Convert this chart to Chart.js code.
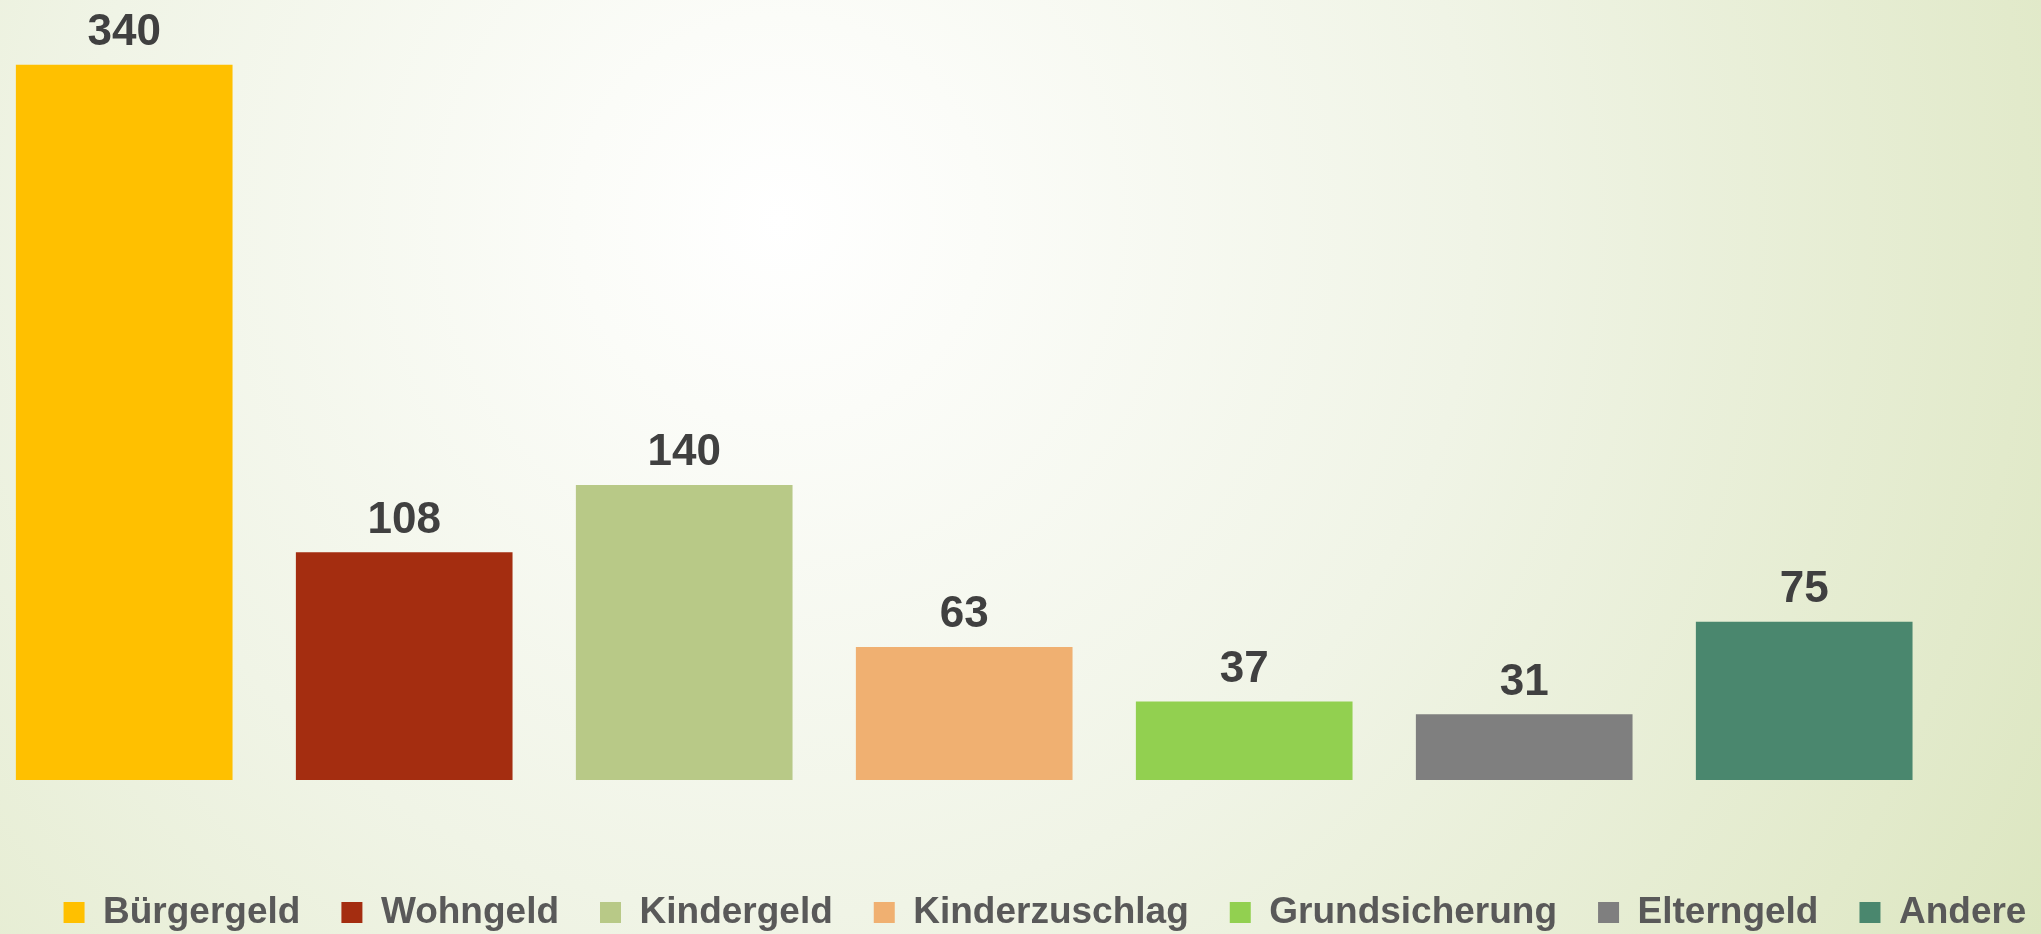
<!DOCTYPE html>
<html lang="de">
<head>
<meta charset="utf-8">
<title>Leistungen</title>
<script src="https://cdn.jsdelivr.net/npm/chart.js@4.4.1/dist/chart.umd.min.js"></script>
<style>
  html, body {
    margin: 0;
    padding: 0;
    width: 2041px;
    height: 934px;
    overflow: hidden;
  }
  body {
    background: radial-gradient(circle farthest-corner at 780px 220px,
      #ffffff 0%, #fbfcf8 14%, #f0f4e6 48%, #e2eacb 86%, #dce6c0 100%);
  }
  #wrap {
    position: absolute;
    left: 0;
    top: 0;
  }
</style>
</head>
<body>
<div id="wrap"><canvas id="leistungenChart" width="2090" height="941"></canvas></div>
<script>
// Daten
const kategorien = ['Bürgergeld', 'Wohngeld', 'Kindergeld', 'Kinderzuschlag', 'Grundsicherung', 'Elterngeld', 'Andere'];
const werte      = [340, 108, 140, 63, 37, 31, 75];
const farben     = ['#FFC000', '#A42D10', '#B8C987', '#F0B071', '#92D050', '#7F7F7F', '#4A876E'];

// Werte über den Balken
const wertLabels = {
  id: 'wertLabels',
  afterDatasetsDraw(chart) {
    const ctx = chart.ctx;
    const meta = chart.getDatasetMeta(0);
    ctx.save();
    ctx.font = 'bold 44px "Liberation Sans", Arial, sans-serif';
    ctx.fillStyle = '#404040';
    ctx.textAlign = 'center';
    ctx.textBaseline = 'alphabetic';
    meta.data.forEach((bar, i) => {
      ctx.fillText(String(werte[i]), bar.x, bar.y - 20);
    });
    ctx.restore();
  }
};

const ctx = document.getElementById('leistungenChart').getContext('2d');
new Chart(ctx, {
  type: 'bar',
  data: {
    datasets: [{
      label: 'Leistungen',
      data: werte.map((v, i) => ({ x: i, y: v })),
      backgroundColor: farben,
      borderWidth: 0,
      barThickness: 216
    }]
  },
  options: {
    responsive: false,
    animation: false,
    devicePixelRatio: 1,
    layout: { padding: 0 },
    scales: {
      x: {
        type: 'linear',
        display: false,
        offset: false,
        min: -0.4436,
        max: 7.0207
      },
      y: {
        type: 'linear',
        display: false,
        min: -34.87,
        max: 370.9
      }
    },
    plugins: {
      tooltip: { enabled: false },
      legend: {
        position: 'bottom',
        onClick: null,
        labels: {
          boxWidth: 21,
          boxHeight: 21,
          padding: 41,
          color: '#595959',
          font: { family: '"Liberation Sans", Arial, sans-serif', size: 37, weight: 'bold' },
          generateLabels: () => kategorien.map((k, i) => ({
            text: k,
            fillStyle: farben[i],
            strokeStyle: farben[i],
            fontColor: '#595959',
            lineWidth: 0,
            hidden: false,
            index: i
          }))
        }
      }
    }
  },
  plugins: [wertLabels]
});
</script>
</body>
</html>
